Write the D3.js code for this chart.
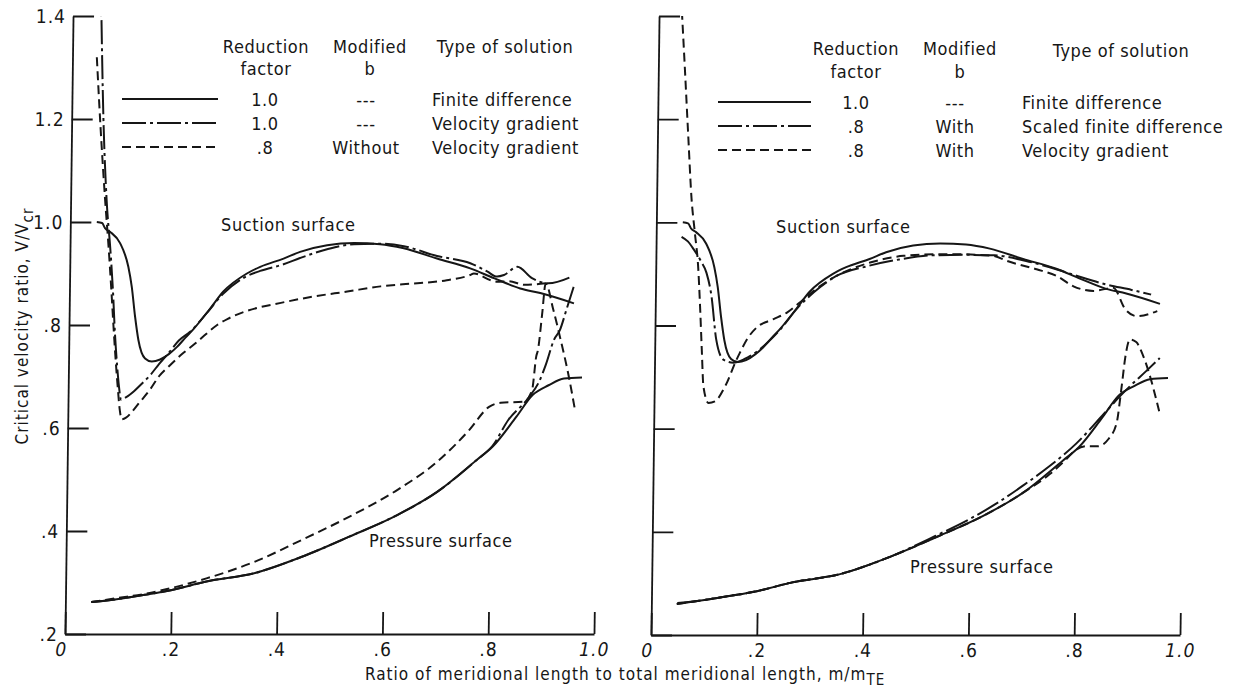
<!DOCTYPE html>
<html><head><meta charset="utf-8">
<script src="https://cdn.jsdelivr.net/npm/d3@7"></script>
<style>
body{margin:0;background:#fff;}
svg text{font-family:"Liberation Sans Narrow","DejaVu Sans Condensed","Liberation Sans",sans-serif;fill:#161616;}
</style></head><body>
<svg id="chart" width="1237" height="691" xmlns="http://www.w3.org/2000/svg"></svg>
<script>
// ---------- DATA ----------
const xTickValues = [0, 0.2, 0.4, 0.6, 0.8, 1.0];
const xTickLabels = ["0", ".2", ".4", ".6", ".8", "1.0"];
const yTickValues = [0.2, 0.4, 0.6, 0.8, 1.0, 1.2, 1.4];
const yTickLabels = [".2", ".4", ".6", ".8", "1.0", "1.2", "1.4"];

// Finite difference, reduction factor 1.0 (solid, both panels)
const mSucFD = [0.05,0.06,0.0657,0.0752,0.0945,0.1107,0.1177,0.1247,0.1315,0.1446,0.1574,0.1731,0.19,0.2043,0.22,0.2354,0.2664,0.291,0.335,0.36,0.404,0.435,0.486,0.537,0.586,0.631,0.694,0.757,0.802,0.852,0.89,0.954];
const vSucFD = [1.0,0.998,0.988,0.981,0.959,0.913,0.874,0.816,0.771,0.735,0.729,0.733,0.744,0.757,0.775,0.792,0.832,0.865,0.9,0.913,0.929,0.942,0.955,0.959,0.957,0.949,0.929,0.91,0.891,0.871,0.862,0.842];
const mPreFD = [0.049,0.1,0.15,0.199,0.266,0.356,0.446,0.535,0.625,0.7,0.774,0.804,0.848,0.878,0.908,0.937,0.971];
const vPreFD = [0.262,0.268,0.276,0.285,0.302,0.318,0.35,0.389,0.431,0.476,0.538,0.564,0.622,0.664,0.683,0.696,0.698];

// Left: velocity gradient, factor 1.0 (dash-dot)
const mSucVG10 = [0.052,0.06,0.068,0.076,0.082,0.087,0.092,0.096,0.1,0.11,0.125,0.14,0.155,0.171,0.19,0.208,0.229,0.26,0.29,0.335,0.36,0.404,0.435,0.486,0.537,0.586,0.631,0.694,0.757,0.789,0.808,0.821,0.846,0.874,0.905,0.949];
const vSucVG10 = [1.46,1.2,1.043,0.95,0.87,0.784,0.72,0.68,0.655,0.66,0.672,0.687,0.703,0.724,0.747,0.77,0.787,0.823,0.86,0.895,0.905,0.918,0.93,0.947,0.957,0.958,0.953,0.934,0.92,0.904,0.894,0.897,0.913,0.891,0.881,0.894];
const mPreVG10 = [0.049,0.1,0.15,0.199,0.266,0.356,0.446,0.535,0.625,0.7,0.774,0.804,0.833,0.87,0.89,0.903,0.917,0.928,0.94,0.953];
const vPreVG10 = [0.262,0.268,0.276,0.285,0.302,0.318,0.35,0.389,0.431,0.476,0.538,0.566,0.616,0.658,0.69,0.725,0.771,0.79,0.83,0.874];

// Left: velocity gradient, factor .8 without modified b (dashed)
const mSucVG08 = [0.046,0.055,0.065,0.073,0.079,0.085,0.09,0.094,0.098,0.102,0.11,0.12,0.134,0.155,0.171,0.19,0.216,0.24,0.26,0.28,0.30,0.335,0.4,0.46,0.525,0.588,0.63,0.713,0.757,0.764,0.796,0.808,0.83,0.86,0.9];
const vSucVG08 = [1.32,1.18,1.045,0.95,0.87,0.785,0.72,0.675,0.635,0.617,0.62,0.63,0.648,0.675,0.7,0.72,0.745,0.765,0.783,0.8,0.812,0.827,0.843,0.855,0.865,0.875,0.879,0.887,0.897,0.9,0.887,0.884,0.885,0.878,0.881];
const mPreVG08 = [0.049,0.1,0.15,0.199,0.266,0.356,0.446,0.535,0.625,0.7,0.759,0.796,0.818,0.862,0.877,0.884,0.887,0.894,0.9,0.915,0.93,0.945,0.958];
const vPreVG08 = [0.262,0.27,0.278,0.289,0.308,0.34,0.383,0.428,0.48,0.535,0.596,0.641,0.649,0.651,0.674,0.739,0.751,0.82,0.881,0.83,0.77,0.705,0.638];

// Right: scaled finite difference, factor .8 with modified b (dash-dot)
const mSucSFD08 = [0.048,0.06,0.071,0.085,0.096,0.106,0.116,0.13,0.149,0.17,0.2,0.235,0.27,0.3,0.34,0.4,0.46,0.52,0.58,0.64,0.7,0.76,0.8,0.85,0.9,0.937];
const vSucSFD08 = [0.972,0.963,0.948,0.925,0.902,0.857,0.773,0.734,0.728,0.735,0.755,0.79,0.835,0.865,0.895,0.915,0.928,0.936,0.937,0.936,0.925,0.908,0.895,0.88,0.869,0.86];
const mPreSFD08 = [0.048,0.1,0.15,0.199,0.266,0.356,0.446,0.535,0.6,0.65,0.7,0.75,0.8,0.85,0.88,0.9,0.93,0.955];
const vPreSFD08 = [0.26,0.268,0.276,0.285,0.302,0.318,0.35,0.392,0.425,0.455,0.49,0.528,0.572,0.628,0.662,0.683,0.712,0.737];

// Right: velocity gradient, factor .8 with modified b (dashed)
const mSucVG08W = [0.043,0.05,0.058,0.066,0.073,0.08,0.085,0.089,0.093,0.103,0.115,0.134,0.155,0.161,0.174,0.192,0.223,0.249,0.27,0.3,0.34,0.405,0.468,0.531,0.575,0.638,0.664,0.72,0.758,0.79,0.828,0.865,0.889,0.911,0.949];
const vSucVG08W = [1.41,1.3,1.17,1.045,0.98,0.915,0.831,0.753,0.682,0.65,0.653,0.682,0.734,0.747,0.773,0.796,0.812,0.825,0.842,0.868,0.895,0.922,0.935,0.938,0.938,0.935,0.925,0.909,0.896,0.876,0.867,0.873,0.831,0.818,0.828];
const mPreVG08W = [0.048,0.1,0.15,0.199,0.266,0.356,0.446,0.535,0.625,0.7,0.75,0.78,0.8,0.82,0.84,0.86,0.875,0.883,0.89,0.898,0.91,0.922,0.935,0.955];
const vPreVG08W = [0.26,0.268,0.276,0.285,0.302,0.318,0.35,0.389,0.431,0.476,0.512,0.54,0.56,0.566,0.566,0.58,0.611,0.676,0.74,0.773,0.768,0.745,0.708,0.634];

// Legend texts
const legendHeaders = ["Reduction", "factor", "Modified", "b", "Type of solution"];
const leftFactor = ["1.0", "1.0", ".8"];
const leftModB = ["---", "---", "Without"];
const leftType = ["Finite difference", "Velocity gradient", "Velocity gradient"];
const rightFactor = ["1.0", ".8", ".8"];
const rightModB = ["---", "With", "With"];
const rightType = ["Finite difference", "Scaled finite difference", "Velocity gradient"];
const lineStyles = ["solid", "dashdot", "dashed"];

// ---------- LAYOUT ----------
const dash = {solid: null, dashdot: "24,4,3,4", dashed: "9,5"};
const SHEAR = -0.745; // slight skew of the scanned axes (degrees)
const svg = d3.select("#chart");
const zip = (m, v) => m.map((d, i) => [d, v[i]]);

const panels = [
  {x0: 65, y0: 634, W: 529, H: 618, yLabels: true,
   curves: [[mSucFD, vSucFD, "solid"], [mPreFD, vPreFD, "solid"],
            [mSucVG10, vSucVG10, "dashdot"], [mPreVG10, vPreVG10, "dashdot"],
            [mSucVG08, vSucVG08, "dashed"], [mPreVG08, vPreVG08, "dashed"]],
   legend: {hx: [266, 266, 370, 370, 505], hy: [53, 75, 53, 75, 53], lx1: 122, lx2: 218, ly: [99, 123, 147],
            fx: 265, bx: 366, tx: 432, factor: leftFactor, modb: leftModB, type: leftType},
   suction: [221, 231], pressure: [369, 547]},
  {x0: 651, y0: 635, W: 529, H: 619, yLabels: false,
   curves: [[mSucFD, vSucFD, "solid"], [mPreFD, vPreFD, "solid"],
            [mSucSFD08, vSucSFD08, "dashdot"], [mPreSFD08, vPreSFD08, "dashdot"],
            [mSucVG08W, vSucVG08W, "dashed"], [mPreVG08W, vPreVG08W, "dashed"]],
   legend: {hx: [856, 856, 960, 960, 1121], hy: [55, 78, 55, 78, 57], lx1: 718, lx2: 811, ly: [102, 126, 150],
            fx: 856, bx: 955, tx: 1022, factor: rightFactor, modb: rightModB, type: rightType},
   suction: [776, 233], pressure: [910, 573]}
];

panels.forEach((p, pi) => {
  const x = d3.scaleLinear().domain([0, 1]).range([0, p.W]);
  const y = d3.scaleLinear().domain([0.2, 1.4]).range([0, -p.H]);
  const g = svg.append("g").attr("transform", `translate(${p.x0},${p.y0}) skewX(${SHEAR})`);

  const clipId = "clip" + pi;
  g.append("clipPath").attr("id", clipId).append("rect")
    .attr("x", -2).attr("y", y(1.4)).attr("width", p.W + 4).attr("height", p.H + 2);

  // axes
  const xAxis = d3.axisBottom(x).tickValues(xTickValues)
    .tickFormat((d, i) => xTickLabels[i]).tickSize(-22).tickSizeOuter(0).tickPadding(9);
  const yAxis = d3.axisLeft(y).tickValues(yTickValues)
    .tickFormat((d, i) => p.yLabels ? yTickLabels[i] : "").tickSize(-21).tickSizeOuter(0).tickPadding(7);
  const gx = g.append("g").call(xAxis);
  const gy = g.append("g").call(yAxis);
  [gx, gy].forEach(a => {
    a.select(".domain").attr("stroke", "#161616").attr("stroke-width", 1.8);
    a.selectAll(".tick line").attr("stroke", "#161616").attr("stroke-width", 1.8);
    a.selectAll(".tick text").style("font-size", "19px").attr("fill", "#161616").style("letter-spacing", "1px");
  });
  gx.selectAll(".tick text").filter(d => d === 0).attr("dx", -4);
  gx.selectAll(".tick text").filter(d => d === 0 || d === 1).style("font-style", "italic");

  // curves
  const line = d3.line().x(d => x(d[0])).y(d => y(d[1])).curve(d3.curveMonotoneX);
  const cg = g.append("g").attr("clip-path", `url(#${clipId})`);
  p.curves.forEach(c => {
    cg.append("path").datum(zip(c[0], c[1]))
      .attr("d", line).attr("fill", "none").attr("stroke", "#161616")
      .attr("stroke-width", 2).attr("stroke-dasharray", dash[c[2]]);
  });

  // legend
  const L = p.legend;
  const lg = svg.append("g").style("font-size", "18px").style("letter-spacing", "0.6px");
  legendHeaders.forEach((t, i) => {
    lg.append("text").attr("x", L.hx[i]).attr("y", L.hy[i]).attr("text-anchor", "middle").text(t);
  });
  lineStyles.forEach((s, i) => {
    lg.append("line").attr("x1", L.lx1).attr("x2", L.lx2).attr("y1", L.ly[i]).attr("y2", L.ly[i])
      .attr("stroke", "#161616").attr("stroke-width", 2).attr("stroke-dasharray", dash[s]);
    lg.append("text").attr("x", L.fx).attr("y", L.ly[i] + 7).attr("text-anchor", "middle").text(L.factor[i]);
    lg.append("text").attr("x", L.bx).attr("y", L.ly[i] + 7).attr("text-anchor", "middle").text(L.modb[i]);
    lg.append("text").attr("x", L.tx).attr("y", L.ly[i] + 7).text(L.type[i]);
  });

  // surface labels
  lg.append("text").attr("x", p.suction[0]).attr("y", p.suction[1]).text("Suction surface");
  lg.append("text").attr("x", p.pressure[0]).attr("y", p.pressure[1]).text("Pressure surface");
});

// axis titles
const yt = svg.append("text").attr("transform", "translate(28,326) rotate(-90)")
  .attr("text-anchor", "middle").style("font-size", "17px").style("letter-spacing", "1px");
yt.append("tspan").text("Critical velocity ratio, V/V");
yt.append("tspan").attr("dy", 5).style("font-size", "15px").text("cr");

const xt = svg.append("text").attr("x", 365).attr("y", 680).style("font-size", "17px").style("letter-spacing", "1px");
xt.append("tspan").text("Ratio of meridional length to total meridional length, m/m");
xt.append("tspan").attr("dy", 5).style("font-size", "15px").text("TE");
</script>
</body></html>
